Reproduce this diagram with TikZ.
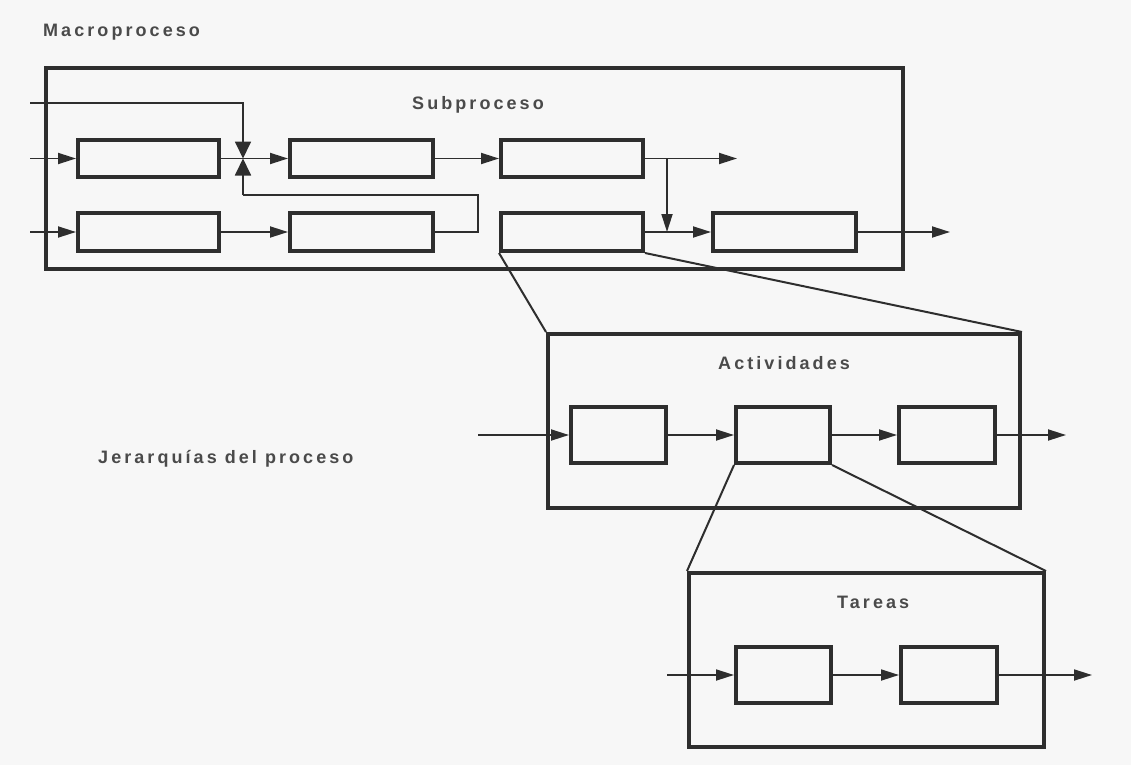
\documentclass[tikz,border=0pt]{standalone}
\usepackage{fontspec}
\setmainfont{Liberation Sans}[LetterSpace=17]
\usetikzlibrary{arrows.meta}
\definecolor{ink}{HTML}{2E2E2E}
\definecolor{txt}{HTML}{4A4A4A}
\definecolor{paper}{HTML}{F7F7F7}
\tikzset{
  procbox/.style={draw=ink, line width=4pt, rectangle, inner sep=0pt, fill=paper},
  levelbox/.style={draw=ink, line width=4pt, rectangle, inner sep=0pt},
  arr/.style={draw=ink, line width=1.8pt, -{Triangle[length=18pt,width=11pt]}},
  jarr/.style={draw=ink, line width=1.8pt, -{Triangle[length=17pt,width=16pt]}},
  plain/.style={draw=ink, line width=1.8pt},
  conn/.style={draw=ink, line width=2pt},
  lbl/.style={text=txt, font=\bfseries\fontsize{18}{20}\selectfont, inner sep=0pt, anchor=base west}
}
\begin{document}
\begin{tikzpicture}[x=1pt,y=-1pt]
\useasboundingbox[fill=paper] (0,0) rectangle (1131,765);

% labels
\node[lbl] (tmacro) at (43,37) {Macroproceso};
\node[lbl] (tjer) at (98,463) {Jerarquías del proceso};

% macro box
\node[levelbox, minimum width=857, minimum height=201] (macro) at (474.5,168.5) {};
\node[lbl] (tsub) at (412,110) {Subproceso};

% subprocess boxes
\node[procbox, minimum width=141, minimum height=37] (A1) at (148.5,158.5) {};
\node[procbox, minimum width=143, minimum height=37] (A2) at (361.5,158.5) {};
\node[procbox, minimum width=142, minimum height=37] (A3) at (572,158.5) {};
\node[procbox, minimum width=141, minimum height=38] (B1) at (148.5,232) {};
\node[procbox, minimum width=143, minimum height=38] (B2) at (361.5,232) {};
\node[procbox, minimum width=142, minimum height=38] (B3) at (572,232) {};
\node[procbox, minimum width=143, minimum height=38] (B4) at (784.5,232) {};

% coordinates for free ends
\coordinate (inA) at (30,158.5);
\coordinate (inB) at (30,232);
\coordinate (inTop) at (30,103);
\coordinate (j1) at (243,158.5);
\coordinate (r1) at (478,195);
\coordinate (r2) at (243,195);
\coordinate (outA) at (737,158.5);
\coordinate (j2a) at (667,158.5);
\coordinate (j2b) at (667,232);
\coordinate (outB) at (950,232);

\draw[arr] (inA) -- (A1.west);
\draw[arr] (inB) -- (B1.west);
\draw[jarr] (inTop) -| (j1);
\draw[arr] (A1.east) -- (A2.west);
\draw[arr] (B1.east) -- (B2.west);
\draw[plain] (B2.east) -| (r1) -- (r2);
\draw[jarr] (r2) -- (j1);
\draw[arr] (A2.east) -- (A3.west);
\draw[arr] (A3.east) -- (outA);
\draw[arr] (j2a) -- (j2b);
\draw[arr] (B3.east) -- (B4.west);
\draw[arr] (B4.east) -- (outB);

% activities
\node[levelbox, minimum width=472, minimum height=174] (act) at (784,421) {};
\node[lbl] (tact) at (718,369) {Actividades};
\node[procbox, minimum width=95, minimum height=56] (C1) at (618.5,435) {};
\node[procbox, minimum width=94, minimum height=56] (C2) at (783,435) {};
\node[procbox, minimum width=96, minimum height=56] (C3) at (947,435) {};
\coordinate (inC) at (478,435);
\coordinate (outC) at (1066,435);
\draw[arr] (inC) -- (C1.west);
\draw[arr] (C1.east) -- (C2.west);
\draw[arr] (C2.east) -- (C3.west);
\draw[arr] (C3.east) -- (outC);

\draw[conn] (B3.south west) -- (act.north west);
\draw[conn] (B3.south east) -- (act.north east);

% tasks
\node[levelbox, minimum width=355, minimum height=174] (tar) at (866.5,660) {};
\node[lbl] (ttar) at (837,608) {Tareas};
\node[procbox, minimum width=95, minimum height=56] (D1) at (783.5,675) {};
\node[procbox, minimum width=96, minimum height=56] (D2) at (949,675) {};
\coordinate (inD) at (667,675);
\coordinate (outD) at (1092,675);
\draw[arr] (inD) -- (D1.west);
\draw[arr] (D1.east) -- (D2.west);
\draw[arr] (D2.east) -- (outD);

\draw[conn] (C2.south west) -- (tar.north west);
\draw[conn] (C2.south east) -- (tar.north east);
\end{tikzpicture}
\end{document}
